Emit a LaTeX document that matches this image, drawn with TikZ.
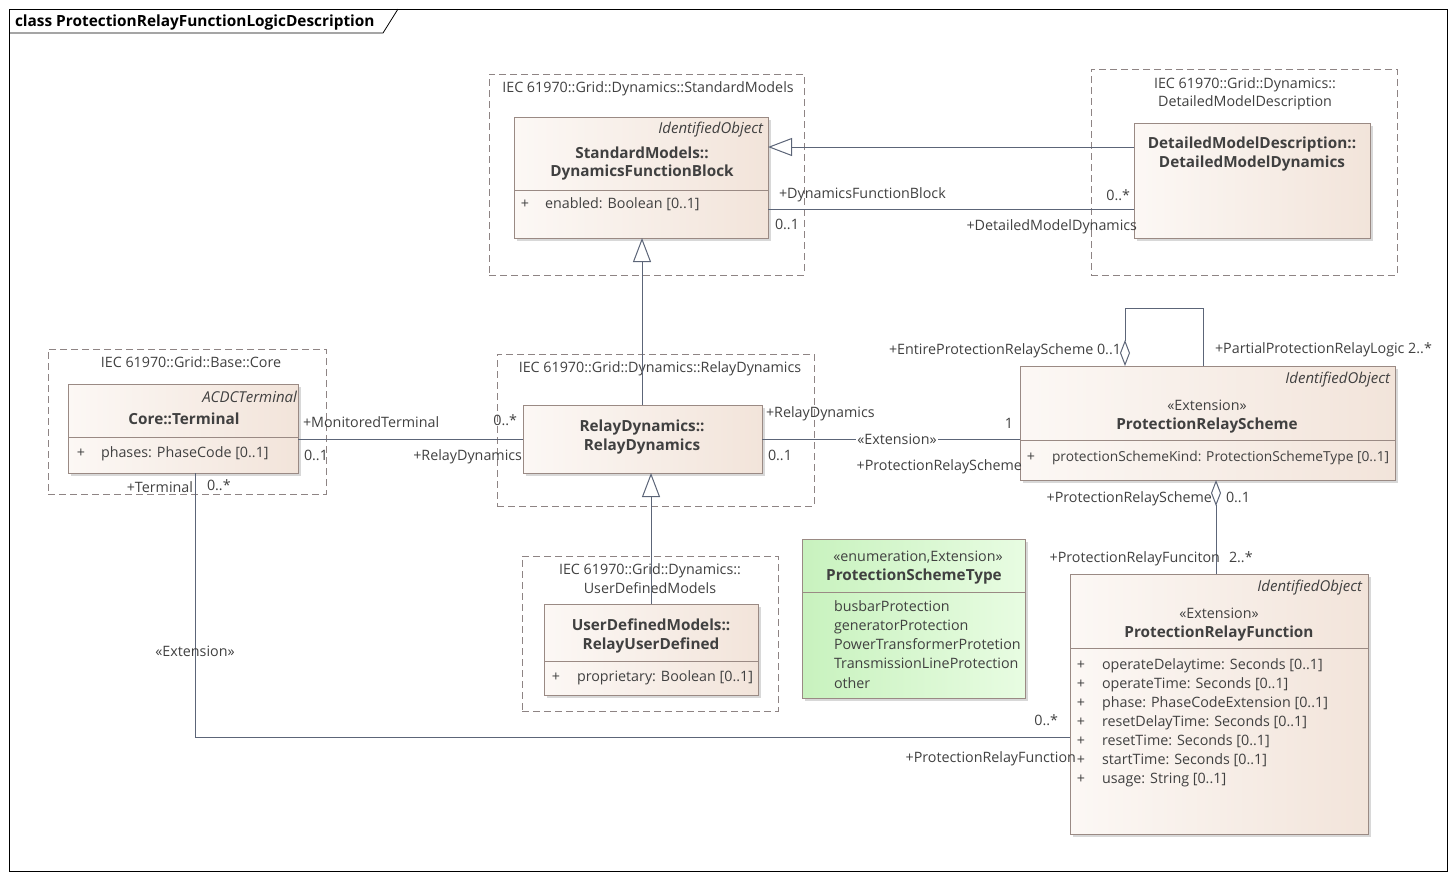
\documentclass[tikz,border=0pt]{standalone}
\usepackage{fontspec}
\setmainfont{Open Sans}
\usetikzlibrary{arrows.meta,shadows}
\definecolor{txt}{HTML}{404040}
\definecolor{conn}{HTML}{5C6578}
\definecolor{cborder}{HTML}{9A8A84}
\definecolor{pkg}{HTML}{8E8484}
\definecolor{cfl}{HTML}{FCF8F5}
\definecolor{cfr}{HTML}{F2E4DA}
\definecolor{efl}{HTML}{C8F2BE}
\definecolor{efr}{HTML}{E8FCE2}
\tikzset{
  classbox/.style={draw=cborder, line width=0.9pt, left color=cfl, right color=cfr, anchor=north west,
     drop shadow={shadow xshift=3pt, shadow yshift=-3pt, fill=black!30, opacity=0.5}},
  enumbox/.style={classbox, left color=efl, right color=efr},
  pkgbox/.style={draw=pkg, dashed, dash pattern=on 7pt off 4pt, line width=0.9pt, anchor=north west},
  conn/.style={draw=conn, line width=1pt},
  gentip/.style={-{Triangle[open, fill=white, length=24pt, width=18pt, line width=1pt]}},
  aggtip/.style={{Diamond[open, fill=white, length=26pt, width=10pt, line width=1pt]}-},
  lbl/.style={text=txt, text height=10.5pt, text depth=3.5pt, yshift=-1.5pt},
  bld/.style={lbl, font=\fontsize{15.3}{17}\selectfont\bfseries},
  itl/.style={lbl, font=\fontsize{15}{17}\selectfont\itshape},
}
\begin{document}
\begin{tikzpicture}[x=1pt, y=-1pt, font=\fontsize{14.3}{16}\selectfont, every node/.append style={inner sep=0pt, outer sep=0pt}]
\useasboundingbox (0,0) rectangle (1456,879);
% frame
\node[draw=black, line width=0.8pt, minimum width=1438pt, minimum height=862pt, anchor=north west] (frame) at (9,9) {};
\draw[line width=0.8pt] (9,33) -- (383,33) -- (398,9);
\node[lbl, anchor=west, font=\fontsize{15.4}{17}\selectfont\bfseries, text=black] (title) at (15,21) {class ProtectionRelayFunctionLogicDescription};

% packages
\node[pkgbox, minimum width=315pt, minimum height=201pt] (pStd) at (489,74) {};
\node[lbl] (pStdL) at (648,87) {IEC 61970::Grid::Dynamics::StandardModels};
\node[pkgbox, minimum width=306pt, minimum height=206pt] (pDet) at (1091,69) {};
\node[lbl] (pDetL1) at (1245,83) {IEC 61970::Grid::Dynamics::};
\node[lbl] (pDetL2) at (1245,101) {DetailedModelDescription};
\node[pkgbox, minimum width=278pt, minimum height=145pt] (pCore) at (48,349) {};
\node[lbl] (pCoreL) at (191,362) {IEC 61970::Grid::Base::Core};
\node[pkgbox, minimum width=317pt, minimum height=152pt] (pRD) at (497,354) {};
\node[lbl] (pRDL) at (660,367) {IEC 61970::Grid::Dynamics::RelayDynamics};
\node[pkgbox, minimum width=256pt, minimum height=155pt] (pUD) at (522,556) {};
\node[lbl] (pUDL1) at (650,569) {IEC 61970::Grid::Dynamics::};
\node[lbl] (pUDL2) at (650,588) {UserDefinedModels};

% classes
\node[classbox, minimum width=254pt, minimum height=121pt] (dfb) at (514,117) {};
\node[classbox, minimum width=236pt, minimum height=115pt] (dmd) at (1134,123) {};
\node[classbox, minimum width=230pt, minimum height=89pt] (term) at (68,384) {};
\node[classbox, minimum width=239pt, minimum height=68pt] (rd) at (523,405) {};
\node[classbox, minimum width=214pt, minimum height=91pt] (rud) at (544,604) {};
\node[classbox, minimum width=375pt, minimum height=114pt] (prs) at (1020,366) {};
\node[classbox, minimum width=298pt, minimum height=260pt] (prf) at (1070,574) {};
\node[enumbox, minimum width=223pt, minimum height=159pt] (enum) at (802,539) {};

% dividers
\draw[cborder, line width=0.9pt] (dfb.west |- 0,190) -- (dfb.east |- 0,190);
\draw[cborder, line width=0.9pt] (term.west |- 0,437) -- (term.east |- 0,437);
\draw[cborder, line width=0.9pt] (rud.west |- 0,661) -- (rud.east |- 0,661);
\draw[cborder, line width=0.9pt] (prs.west |- 0,440) -- (prs.east |- 0,440);
\draw[cborder, line width=0.9pt] (prf.west |- 0,648) -- (prf.east |- 0,648);
\draw[cborder, line width=0.9pt] (enum.west |- 0,592) -- (enum.east |- 0,592);

% class texts
\node[itl, anchor=east] (dfbI) at (763,128) {IdentifiedObject};
\node[bld] (dfbN1) at (642,153) {StandardModels::};
\node[bld] (dfbN2) at (642,171) {DynamicsFunctionBlock};
\node[lbl] (dfbP) at (525,203) {+};
\node[lbl, anchor=west] (dfbA) at (545,203) {enabled: Boolean [0..1]};

\node[bld] (dmdN1) at (1252,143) {DetailedModelDescription::};
\node[bld] (dmdN2) at (1252,162) {DetailedModelDynamics};

\node[itl, anchor=east] (termI) at (297,397) {ACDCTerminal};
\node[bld] (termN) at (184,419) {Core::Terminal};
\node[lbl] (termP) at (81,452) {+};
\node[lbl, anchor=west] (termA) at (101,452) {phases: PhaseCode [0..1]};

\node[bld] (rdN1) at (642,426) {RelayDynamics::};
\node[bld] (rdN2) at (642,445) {RelayDynamics};

\node[bld] (rudN1) at (651,625) {UserDefinedModels::};
\node[bld] (rudN2) at (651,644) {RelayUserDefined};
\node[lbl] (rudP) at (556,676) {+};
\node[lbl, anchor=west] (rudA) at (577,676) {proprietary: Boolean [0..1]};

\node[itl, anchor=east] (prsI) at (1390,378) {IdentifiedObject};
\node[lbl] (prsS) at (1207,405) {«Extension»};
\node[bld] (prsN) at (1207,424) {ProtectionRelayScheme};
\node[lbl] (prsP) at (1031,456) {+};
\node[lbl, anchor=west, font=\fontsize{13.75}{16}\selectfont] (prsA) at (1052,456) {protectionSchemeKind: ProtectionSchemeType [0..1]};

\node[lbl] (enS) at (918,556) {«enumeration,Extension»};
\node[bld] (enN) at (914,575) {ProtectionSchemeType};
\node[lbl, anchor=west] (en1) at (834,606) {busbarProtection};
\node[lbl, anchor=west] (en2) at (834,625) {generatorProtection};
\node[lbl, anchor=west] (en3) at (834,644) {PowerTransformerProtetion};
\node[lbl, anchor=west] (en4) at (834,663) {TransmissionLineProtection};
\node[lbl, anchor=west] (en5) at (834,683) {other};

\node[itl, anchor=east] (prfI) at (1362,586) {IdentifiedObject};
\node[lbl] (prfS) at (1219,613) {«Extension»};
\node[bld] (prfN) at (1219,632) {ProtectionRelayFunction};
\foreach \yy/\tt [count=\i] in {664/{operateDelaytime: Seconds [0..1]}, 683/{operateTime: Seconds [0..1]}, 702/{phase: PhaseCodeExtension [0..1]}, 721/{resetDelayTime: Seconds [0..1]}, 740/{resetTime: Seconds [0..1]}, 759/{startTime: Seconds [0..1]}, 778/{usage: String [0..1]}}{
  \node[lbl] (prfP\i) at (1081,\yy) {+};
  \node[lbl, anchor=west] (prfA\i) at (1102,\yy) {\tt};
}

% connectors
\draw[conn, gentip] (dmd.west |- 0,147) -- (dfb.east |- 0,147);
\draw[conn] (dfb.east |- 0,209) -- (dmd.west |- 0,209);
\node[lbl, anchor=west] (a1a) at (779,193) {+DynamicsFunctionBlock};
\node[lbl, anchor=west] (a1b) at (775,224) {0..1};
\node[lbl, anchor=east] (a1c) at (1130,195) {0..*};
\node[lbl, anchor=east] (a1d) at (1137,225) {+DetailedModelDynamics};

\draw[conn, gentip] (rd.north -| 642,0) -- (dfb.south -| 642,0);
\draw[conn, gentip] (rud.north -| 651,0) -- (rd.south -| 651,0);

\draw[conn] (term.east |- 0,439) -- (rd.west |- 0,439);
\node[lbl, anchor=west] (a2a) at (303,422) {+MonitoredTerminal};
\node[lbl, anchor=west] (a2b) at (304,455) {0..1};
\node[lbl, anchor=east] (a2c) at (517,420) {0..*};
\node[lbl, anchor=east] (a2d) at (522,455) {+RelayDynamics};

\draw[conn] (rd.east |- 0,439) -- (prs.west |- 0,439);
\node[lbl, fill=white, inner xsep=1pt, text height=9pt, text depth=2pt, yshift=0pt] (a3s) at (897,439) {«Extension»};
\node[lbl, anchor=west] (a3a) at (766,412) {+RelayDynamics};
\node[lbl, anchor=west] (a3b) at (768,455) {0..1};
\node[lbl, anchor=east] (a3c) at (1013,423) {1};
\node[lbl, anchor=east] (a3d) at (1022,465) {+ProtectionRelayScheme};

\draw[conn, aggtip] (prs.north -| 1125,0) -- (1125,308) -- (1203,308) -- (prs.north -| 1203,0);
\node[lbl, anchor=east] (a4a) at (1121,349) {+EntireProtectionRelayScheme 0..1};
\node[lbl, anchor=west] (a4b) at (1215,348) {+PartialProtectionRelayLogic 2..*};

\draw[conn, aggtip] (prs.south -| 1216,0) -- (prf.north -| 1216,0);
\node[lbl, anchor=east] (a5a) at (1212,497) {+ProtectionRelayScheme};
\node[lbl, anchor=west] (a5b) at (1226,497) {0..1};
\node[lbl, anchor=east] (a5c) at (1220,557) {+ProtectionRelayFunciton};
\node[lbl, anchor=west] (a5d) at (1229,557) {2..*};

\draw[conn] (term.south -| 195,0) -- (195,737) -- (prf.west |- 0,737);
\node[lbl] (a6s) at (195,651) {«Extension»};
\node[lbl, anchor=east] (a6a) at (193,487) {+Terminal};
\node[lbl, anchor=west] (a6b) at (207,485) {0..*};
\node[lbl, anchor=east] (a6c) at (1058,720) {0..*};
\node[lbl, anchor=east] (a6d) at (1076,757) {+ProtectionRelayFunction};
\end{tikzpicture}
\end{document}
